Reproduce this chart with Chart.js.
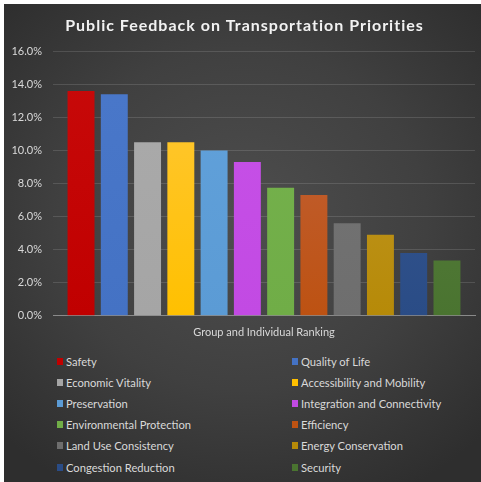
<!DOCTYPE html>
<html>
<head>
<meta charset="utf-8">
<script src="https://cdn.jsdelivr.net/npm/chart.js@4.4.1/dist/chart.umd.min.js"></script>
<style>
  html, body { margin: 0; padding: 0; background: #ffffff; }
  #frame {
    position: absolute; left: 4px; top: 4px; width: 477px; height: 478px;
    background: radial-gradient(ellipse 70% 65% at 50% 45%, #4e4e4e 0%, #404040 55%, #2e2e2e 100%);
    overflow: hidden;
  }
  #chartBox { position: absolute; left: 0; top: 0; width: 477px; height: 345px; }
  #legend {
    position: absolute; left: 53px; top: 347px; width: 424px;
    display: grid; grid-template-columns: 235px 189px; grid-auto-rows: 21.1px;
    font-family: Lato, "Noto Sans", sans-serif; font-size: 11.2px; color: #d9d9d9;
  }
  .item { display: flex; align-items: center; white-space: nowrap; }
  .sw { width: 6px; height: 7px; margin-right: 3px; flex: none; }
</style>
</head>
<body>
<div id="frame">
  <div id="chartBox"><canvas id="barchart"></canvas></div>
  <div id="legend"></div>
</div>
<script>
// Data
const categories = ['Group and Individual Ranking'];
const priorities = [
  'Safety', 'Quality of Life', 'Economic Vitality', 'Accessibility and Mobility',
  'Preservation', 'Integration and Connectivity', 'Environmental Protection', 'Efficiency',
  'Land Use Consistency', 'Energy Conservation', 'Congestion Reduction', 'Security'
];
const shares = [0.136, 0.134, 0.105, 0.105, 0.100, 0.093, 0.0775, 0.073, 0.056, 0.049, 0.038, 0.0335];
const yTicks = [0, 0.02, 0.04, 0.06, 0.08, 0.10, 0.12, 0.14, 0.16];

const barColors = [
  '#C00000', '#4472C4', '#A5A5A5', '#FFC000',
  '#5B9BD5', '#C24AE3', '#70AD47', '#BD5212',
  '#6E6E6E', '#B68A08', '#2A4C86', '#4A7430'
];
const topColors = [
  '#C80A0A', '#4A78CA', '#ABABAB', '#FFC83C',
  '#62A2DB', '#C752E8', '#76B24E', '#C26440',
  '#767676', '#C49A2C', '#3A5A92', '#5A7E40'
];

// Vertical gradient, a bit lighter at the top like the original
function barFill(i) {
  return (ctx) => {
    const area = ctx.chart.chartArea;
    if (!area) return barColors[i];
    const g = ctx.chart.ctx.createLinearGradient(0, area.top, 0, area.bottom);
    g.addColorStop(0, topColors[i]);
    g.addColorStop(1, barColors[i]);
    return g;
  };
}

const datasets = priorities.map((name, i) => ({
  label: name,
  data: [shares[i]],
  backgroundColor: barFill(i),
  borderWidth: 0,
  categoryPercentage: 0.946,
  barPercentage: 0.81
}));

const ctx = document.getElementById('barchart').getContext('2d');
const chart = new Chart(ctx, {
  type: 'bar',
  data: { labels: categories, datasets: datasets },
  options: {
    responsive: true,
    maintainAspectRatio: false,
    animation: false,
    layout: { padding: { left: 0, right: 6, top: 6, bottom: 0 } },
    scales: {
      x: {
        grid: { display: false, drawTicks: false },
        border: { display: true, color: '#8a8a8a', width: 1 },
        ticks: { color: '#d9d9d9', padding: 10, font: { family: 'Lato', size: 11 } }
      },
      y: {
        min: 0,
        max: 0.16,
        afterBuildTicks: (axis) => { axis.ticks = yTicks.map(v => ({ value: v })); },
        afterFit: (axis) => { axis.width = 49; },
        grid: { color: 'rgba(255,255,255,0.13)', drawTicks: false },
        border: { display: false },
        ticks: {
          color: '#d9d9d9', padding: 11, font: { family: 'Lato', size: 11 },
          callback: (v) => (v * 100).toFixed(1) + '%'
        }
      }
    },
    plugins: {
      legend: { display: false },
      tooltip: { enabled: false },
      title: {
        display: true,
        text: 'Public Feedback on Transportation Priorities',
        color: '#f2f2f2',
        font: { family: 'Lato', size: 16, weight: 'bold' },
        padding: { top: 6, bottom: 16 }
      }
    }
  }
});

// Spaced-out title lettering, as in the original
const drawTitle = chart.titleBlock.draw;
chart.titleBlock.draw = function (area) {
  const c = this.ctx;
  c.save();
  c.letterSpacing = '1px';
  c.translate(5, 0);
  drawTitle.call(this, area);
  c.restore();
};
chart.draw();

// Two-column legend built from the chart datasets
const legendEl = document.getElementById('legend');
chart.data.datasets.forEach((ds, i) => {
  const item = document.createElement('div');
  item.className = 'item';
  const sw = document.createElement('span');
  sw.className = 'sw';
  sw.style.background = barColors[i];
  const txt = document.createElement('span');
  txt.textContent = ds.label;
  item.appendChild(sw);
  item.appendChild(txt);
  legendEl.appendChild(item);
});
</script>
</body>
</html>
